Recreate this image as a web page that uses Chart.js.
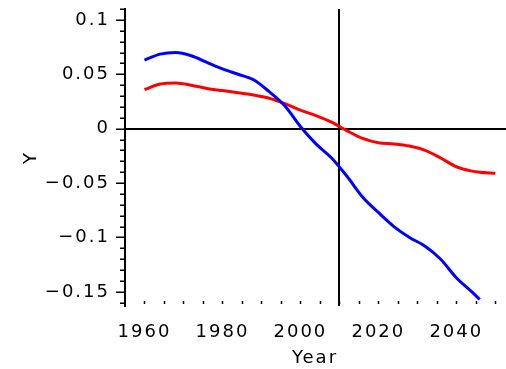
<!DOCTYPE html>
<html>
<head>
<meta charset="utf-8">
<script src="https://cdn.jsdelivr.net/npm/chart.js@4.4.1/dist/chart.umd.min.js"></script>
<style>
  html, body { margin: 0; padding: 0; background: #fff; }
  #wrap { width: 506px; height: 369px; }
</style>
</head>
<body>
<div id="wrap"><canvas id="c" width="506" height="369"></canvas></div>
<script>
// Sampled curves (year -> value)
const years = [1960, 1964, 1968, 1972, 1976, 1980, 1984, 1988, 1992, 1996, 2000, 2004,
               2008, 2012, 2016, 2020, 2024, 2028, 2032, 2036, 2040, 2044, 2046, 2050];
const blueValues = [0.063, 0.0685, 0.070, 0.067, 0.061, 0.055, 0.050, 0.045, 0.034, 0.021, 0.002, -0.014,
                    -0.027, -0.044, -0.063, -0.077, -0.090, -0.100, -0.108, -0.120, -0.137, -0.150, -0.157, null];
const redValues = [0.036, 0.041, 0.042, 0.040, 0.037, 0.035, 0.033, 0.031, 0.028, 0.023, 0.017, 0.012,
                   0.006, -0.002, -0.009, -0.013, -0.014, -0.016, -0.020, -0.027, -0.035, -0.039, -0.040, -0.041];

// Axis labels
const yTickValues = [0.1, 0.05, 0, -0.05, -0.1, -0.15];
const xTickYears = [1960, 1980, 2000, 2020, 2040];
const markerYear = 2010;

const FONT = { family: 'DejaVu Sans', size: 18, weight: 'normal' };

function fmtY(v) {
  if (Math.abs(v) < 1e-9) return '0';
  return (v < 0 ? '\u2212' : '') + String(Math.abs(v));
}

function toPoints(vals) {
  return years.map((yr, i) => ({ x: yr, y: vals[i] }));
}

// Zero line, marker line and tick marks drawn from the scales
const axisMarks = {
  id: 'axisMarks',
  beforeDraw(chart) {
    chart.ctx.letterSpacing = '2px';
  },
  beforeDatasetsDraw(chart) {
    const { ctx, chartArea: a, scales: { x, y } } = chart;
    ctx.save();
    ctx.strokeStyle = '#000';
    const seg = (x1, y1, x2, y2) => { ctx.beginPath(); ctx.moveTo(x1, y1); ctx.lineTo(x2, y2); ctx.stroke(); };

    ctx.lineWidth = 2;
    const y0 = Math.round(y.getPixelForValue(0));
    seg(a.left, y0, a.right + 1, y0);
    const xm = Math.round(x.getPixelForValue(markerYear));
    seg(xm, a.top, xm, a.bottom);

    ctx.lineWidth = 1.5;
    for (let k = -16; k <= 11; k++) {
      const py = Math.round(y.getPixelForValue(k / 100)) + 0.25;
      const len = (k % 5 === 0) ? 9 : 5;
      seg(a.left - len, py, a.left, py);
    }
    for (let yr = 1960; yr <= 2050; yr += 5) {
      const px = Math.round(x.getPixelForValue(yr)) + 0.5;
      seg(px, a.bottom - 5, px, a.bottom - 2);
    }
    ctx.restore();
  }
};

new Chart(document.getElementById('c'), {
  type: 'line',
  data: {
    datasets: [
      {
        label: 'blue',
        data: toPoints(blueValues),
        borderColor: '#0000ff',
        borderWidth: 3,
        pointRadius: 0,
        cubicInterpolationMode: 'monotone',
        spanGaps: false,
        fill: false
      },
      {
        label: 'red',
        data: toPoints(redValues),
        borderColor: '#ff0000',
        borderWidth: 3,
        pointRadius: 0,
        cubicInterpolationMode: 'monotone',
        fill: false
      }
    ]
  },
  options: {
    responsive: false,
    animation: false,
    devicePixelRatio: 1,
    layout: { padding: { top: 9, right: 1, bottom: 0, left: 0 } },
    plugins: { legend: { display: false }, tooltip: { enabled: false } },
    scales: {
      x: {
        type: 'linear',
        min: 1955,
        max: 2052.5,
        afterBuildTicks: s => { s.ticks = xTickYears.map(v => ({ value: v })); },
        afterFit: s => { s.height = 63; s.paddingLeft = 0; s.paddingRight = 0; },
        ticks: {
          autoSkip: false, maxRotation: 0, padding: 16,
          color: '#000', font: FONT,
          callback: v => String(v)
        },
        grid: { display: false, drawTicks: false },
        border: { display: false },
        title: { display: true, text: 'Year', color: '#000', font: FONT, padding: { top: 0, bottom: 0 } }
      },
      y: {
        type: 'linear',
        min: -0.163,
        max: 0.110,
        afterBuildTicks: s => { s.ticks = yTickValues.map(v => ({ value: v })); },
        afterFit: s => { s.width = 125; s.paddingTop = 0; s.paddingBottom = 0; },
        ticks: {
          padding: 15, color: '#000', font: FONT,
          callback: v => fmtY(v)
        },
        grid: { display: true, drawOnChartArea: false, drawTicks: false },
        border: { display: true, color: '#000', width: 2 },
        title: { display: true, text: 'Y', color: '#000', font: FONT, padding: { top: 21, bottom: 0 } }
      }
    }
  },
  plugins: [axisMarks]
});
</script>
</body>
</html>
